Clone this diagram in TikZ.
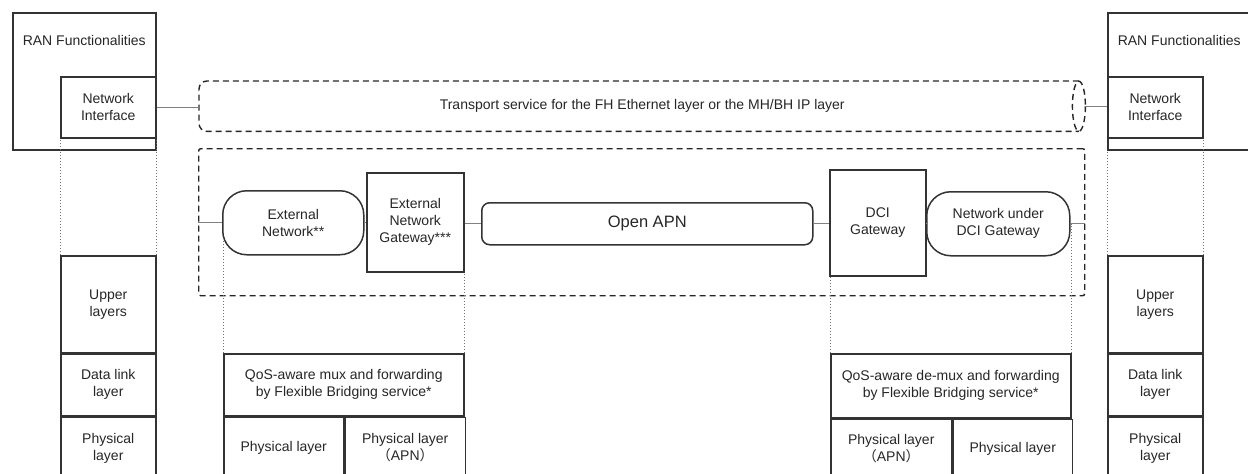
\documentclass[tikz,border=0pt]{standalone}
\usepackage{fontspec}
\setmainfont{Liberation Sans}
\newfontfamily\cjk{Noto Sans CJK SC}
\usetikzlibrary{calc}

\begin{document}
\begin{tikzpicture}[x=1pt,y=-1pt,
    every node/.style={font=\fontsize{14}{17}\selectfont,text=black!85,align=center,inner sep=0pt},
    box/.style={draw=black!80,line width=1.5pt},
    dashbox/.style={draw=black!85,line width=1.4pt,dash pattern=on 6pt off 4pt},
    link/.style={draw=black!50,line width=1pt},
    guide/.style={draw=black!55,line width=0.8pt,dash pattern=on 1.2pt off 1.8pt}]
    \useasboundingbox (0,0) rectangle (1248,474);
    %%%%%%%%%%%%%%%%%%%%%%%%%%%%%%%%%%%%%%%%%%RAN side, left and right
    \foreach \s/\x/\w in {L/12/143,R/1107/143}
    {
        \node[box,anchor=north west,minimum width=\w,minimum height=137] (ran\s) at (\x,12) {};
        \node (ranlabel\s) at ([yshift=-28pt]ran\s.north) {RAN Functionalities};
    }
    \foreach \s/\x in {L/60,R/1107}
    {
        \node[box,anchor=north west,minimum width=95,minimum height=61] (ni\s) at (\x,76) {Network\\Interface};
        \node[box,anchor=north west,minimum width=95,minimum height=97] (upper\s) at (\x,255) {Upper\\layers};
        \node[box,anchor=north,minimum width=95,minimum height=61] (data\s) at (upper\s.south) {Data link\\layer};
        \node[box,anchor=north,minimum width=95,minimum height=63] (phys\s) at (data\s.south) {Physical\\layer};
    }
    %%%%%%%%%%%%%%%%%%%%%%%%%%%%%%%%%%%%%%%%%%transport tube
    \node[anchor=north west,minimum width=886,minimum height=50] (transport) at (199,81)
        {Transport service for the FH Ethernet layer or the MH/BH IP layer};
    \draw[dashbox,rounded corners=8pt] ([xshift=-6.5pt]transport.north east) -- (transport.north west)
        -- (transport.south west) -- ([xshift=-6.5pt]transport.south east);
    \draw[dashbox] ([xshift=-6.5pt]transport.east) ellipse [x radius=6.5,y radius=25];
    %%%%%%%%%%%%%%%%%%%%%%%%%%%%%%%%%%%%%%%%%%Open APN domain
    \node[dashbox,rounded corners=2pt,anchor=north west,minimum width=886,minimum height=147] (apn) at (198,148) {};
    \node[box,rounded corners=24pt,anchor=north west,minimum width=141,minimum height=64] (extnet) at (222,190) {External\\Network**};
    \node[box,anchor=north west,minimum width=97,minimum height=99] (extgw) at (366,172) {External\\Network\\Gateway***};
    \node[box,rounded corners=8pt,anchor=north west,minimum width=331,minimum height=42,
        font=\fontsize{16.5}{20}\selectfont] (openapn) at (481,202) {Open APN};
    \node[box,anchor=north west,minimum width=96,minimum height=106] (dcigw) at (829,169) {DCI\\Gateway};
    \node[box,rounded corners=24pt,anchor=north west,minimum width=143,minimum height=64] (nudci) at (926,191) {Network under\\DCI Gateway};
    %%%%%%%%%%%%%%%%%%%%%%%%%%%%%%%%%%%%%%%%%%Flexible Bridging stacks
    \node[box,anchor=north west,minimum width=240,minimum height=62] (qosL) at (223,353)
        {QoS-aware mux and forwarding\\by Flexible Bridging service*};
    \node[box,anchor=north west,minimum width=120,minimum height=61] (physL1) at (qosL.south west) {Physical layer};
    \node[box,anchor=north west,minimum width=120,minimum height=61] (physL2) at (physL1.north east)
        {Physical layer\\{\cjk （}APN{\cjk ）}};
    \node[box,anchor=north west,minimum width=240,minimum height=64] (qosR) at (830,353)
        {QoS-aware de-mux and forwarding\\by Flexible Bridging service*};
    \node[box,anchor=north west,minimum width=121,minimum height=59] (physR1) at (qosR.south west)
        {Physical layer\\{\cjk （}APN{\cjk ）}};
    \node[box,anchor=north west,minimum width=119,minimum height=59] (physR2) at (physR1.north east) {Physical layer};
    %%%%%%%%%%%%%%%%%%%%%%%%%%%%%%%%%%%%%%%%%%links
    \draw[link] (niL.east) -- (niL.east -| transport.west);
    \draw[link] (transport.east) -- (transport.east -| niR.west);
    \draw[link] (extnet.west -| apn.west) -- (extnet.west);
    \draw[link] (extnet.east) -- (extnet.east -| extgw.west);
    \draw[link] (openapn.west -| extgw.east) -- (openapn.west);
    \draw[link] (openapn.east) -- (openapn.east -| dcigw.west);
    \draw[link] (dcigw.east |- nudci.west) -- (nudci.west);
    \draw[link] (nudci.east) -- (nudci.east -| apn.east);
    %%%%%%%%%%%%%%%%%%%%%%%%%%%%%%%%%%%%%%%%%%dotted guides
    \foreach \a/\b in {niL.south west/upperL.north west,niL.south east/upperL.north east,
        ranR.south west/upperR.north west,niR.south east/upperR.north east,
        extgw.south east/qosL.north east,dcigw.south west/qosR.north west}
    {
        \draw[guide] (\b) -- (\b |- \a);
    }
    \draw[guide] (qosL.north west) -- ($(qosL.north west |- extnet.center)+(0,15)$);
    \draw[guide] (qosR.north east) -- (qosR.north east |- nudci.center);
\end{tikzpicture}
\end{document}
